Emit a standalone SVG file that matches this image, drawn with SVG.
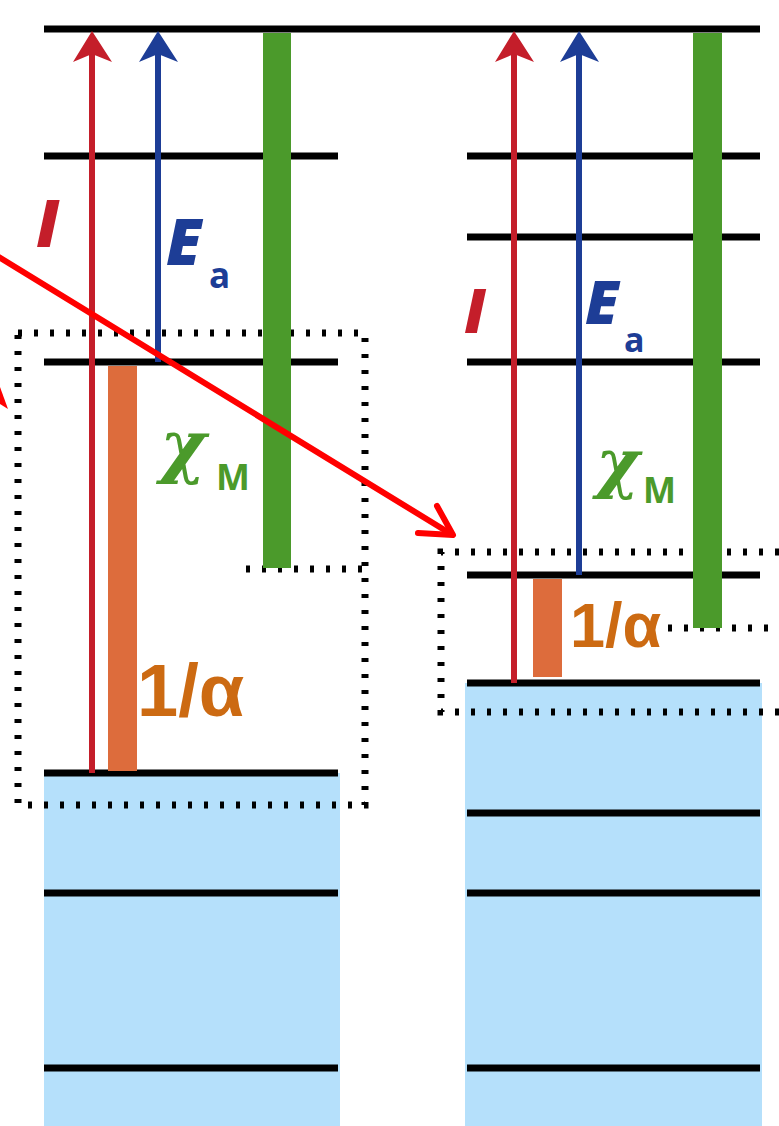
<svg xmlns="http://www.w3.org/2000/svg" width="779" height="1126" viewBox="0 0 779 1126">
<defs>
<style>
.lvl{stroke:#000;stroke-width:7;fill:none}
.dot{stroke:#000;stroke-width:7;stroke-dasharray:4 12;fill:none}
.fill{fill:#b5e0fb}
.orange{fill:#dd6c3c}
.green{fill:#4b9a2b}
.red{stroke:#c41e2a;stroke-width:6;fill:none}
.blue{stroke:#1d3d96;stroke-width:6;fill:none}
.t-sym{font-family:"Open Sans","Liberation Sans",sans-serif;font-weight:800;font-style:italic}
.t-sub{font-family:"Open Sans","Liberation Sans",sans-serif;font-weight:bold}
.t-chi{font-family:"DejaVu Serif","Liberation Serif",serif;font-style:italic;font-weight:bold}
.t-alpha{font-family:"Liberation Sans",Arial,sans-serif;font-weight:bold;fill:#cc6a12}
.pointer{stroke:#ff0000;stroke-width:6;fill:none;stroke-linecap:round;stroke-linejoin:round}
</style>
</defs>
<rect width="779" height="1126" fill="#fff"/>

<g id="left-panel">
  <rect class="fill" x="44" y="773" width="296" height="353"/>
  <line class="lvl" x1="44" y1="156" x2="338" y2="156"/>
  <line class="lvl" x1="44" y1="362" x2="338" y2="362"/>
  <line class="lvl" x1="44" y1="773" x2="338" y2="773"/>
  <line class="lvl" x1="44" y1="893" x2="338" y2="893"/>
  <line class="lvl" x1="44" y1="1068" x2="338" y2="1068"/>
  <rect class="dot" x="18" y="333" width="347" height="472"/>
  <line class="dot" x1="246" y1="569" x2="365" y2="569"/>
  <rect class="orange" x="108" y="366" width="29" height="405"/>
</g>

<g id="right-panel">
  <rect class="fill" x="465" y="683" width="297" height="443"/>
  <line class="lvl" x1="467" y1="156" x2="760" y2="156"/>
  <line class="lvl" x1="467" y1="237" x2="760" y2="237"/>
  <line class="lvl" x1="467" y1="362" x2="760" y2="362"/>
  <line class="lvl" x1="467" y1="575" x2="760" y2="575"/>
  <line class="lvl" x1="467" y1="683" x2="760" y2="683"/>
  <line class="lvl" x1="467" y1="813" x2="760" y2="813"/>
  <line class="lvl" x1="467" y1="893" x2="760" y2="893"/>
  <line class="lvl" x1="467" y1="1068" x2="760" y2="1068"/>
  <path class="dot" d="M779 552 H441 V712 H779"/>
  <line class="dot" x1="668" y1="628" x2="779" y2="628"/>
  <rect class="orange" x="533" y="579" width="29" height="98"/>
</g>

<g id="top-level">
  <line class="lvl" x1="44" y1="29" x2="760" y2="29"/>
</g>

<g id="connectors">
  <line class="red" x1="92" y1="773" x2="92" y2="50"/>
  <path fill="#c41e2a" d="M92 31 L112 62 L92 54 L73 62 Z"/>
  <line class="blue" x1="158" y1="362" x2="158" y2="50"/>
  <path fill="#1d3d96" d="M158 31 L178 62 L158 54 L139 62 Z"/>
  <line class="red" x1="514" y1="683" x2="514" y2="50"/>
  <path fill="#c41e2a" d="M514 31 L534 62 L514 54 L495 62 Z"/>
  <line class="blue" x1="579" y1="575" x2="579" y2="50"/>
  <path fill="#1d3d96" d="M579 31 L599 62 L579 54 L560 62 Z"/>
</g>

<g id="green-bars">
  <rect class="green" x="263" y="33" width="28" height="535"/>
  <rect class="green" x="693" y="33" width="29" height="595"/>
</g>

<g id="labels">
  <text class="t-sym" x="36" y="247" font-size="66" fill="#c41e2a">I</text>
  <text class="t-sym" x="166" y="265" font-size="63" fill="#1d3d96">E</text>
  <text class="t-sub" x="209" y="288" font-size="35" fill="#1d3d96">a</text>
  <text class="t-chi" x="160" y="470" font-size="70" fill="#4b9a2b">χ</text>
  <text class="t-sub" x="216" y="490" font-size="36" fill="#4b9a2b" font-family="Liberation Sans">M</text>
  <text class="t-alpha" x="137" y="716" font-size="74">1/α</text>

  <text class="t-sym" x="464" y="333" font-size="62" fill="#c41e2a">I</text>
  <text class="t-sym" x="585" y="324" font-size="60" fill="#1d3d96">E</text>
  <text class="t-sub" x="624" y="352" font-size="34" fill="#1d3d96">a</text>
  <text class="t-chi" x="596" y="485" font-size="66" fill="#4b9a2b">χ</text>
  <text class="t-sub" x="643" y="503" font-size="35" fill="#4b9a2b" font-family="Liberation Sans">M</text>
  <text class="t-alpha" x="570" y="647" font-size="63">1/α</text>
</g>

<g id="pointers">
  <line class="pointer" x1="-3" y1="256" x2="451" y2="534"/>
  <path class="pointer" d="M437 506 L453 535 L418 533"/>
  <polygon fill="#ff0000" points="0,387 8,409 0,404"/>
</g>
</svg>
